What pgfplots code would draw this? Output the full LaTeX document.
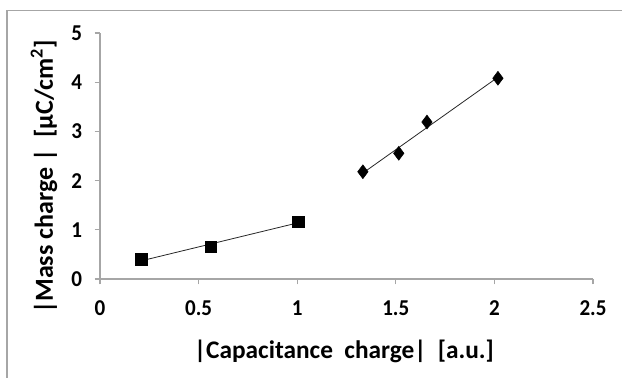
\documentclass[border=0pt]{standalone}
\usepackage{fontspec}
\setmainfont{Carlito}
\newfontfamily\tickfont[FakeStretch=0.93]{Carlito}
\usepackage{pgfplots}
\pgfplotsset{compat=1.18}
\begin{document}
\begin{tikzpicture}
\path[use as bounding box] (0pt,0pt) rectangle (466.5pt,283.5pt);
\draw[gray!70, line width=0.9pt] (5.25pt,0pt) -- (5.25pt,275.6pt) -- (466.5pt,275.6pt);
\begin{axis}[
  at={(75pt,74.25pt)}, anchor=origin,
  scale only axis, width=369.75pt, height=184.5pt,
  xmin=0, xmax=2.5, ymin=0, ymax=5,
  xtick={0,0.5,...,2.5}, ytick={0,1,...,5},
  axis x line*=bottom, axis y line*=left,
  axis line style={gray!70, line width=0.9pt, -},
  tick style={gray!70, line width=0.9pt},
  tick align=outside, major tick length=4pt,
  /pgf/number format/assume math mode=true,
  xticklabel style={font=\fontsize{17}{19}\tickfont\bfseries, anchor=center, yshift=-18pt},
  yticklabel style={font=\fontsize{17}{19}\tickfont\bfseries, anchor=east, xshift=-6pt},
  xlabel={|Capacitance\ \ charge|\ \ [a.u.]},
  ylabel={|Mass charge |\ \ [µC/cm\textsuperscript{2}]},
  xlabel style={font=\fontsize{19}{21}\selectfont\bfseries, at={(axis description cs:0.495,0)}, anchor=center, yshift=-54pt},
  ylabel style={font=\fontsize{19.5}{21}\selectfont\bfseries, at={(axis description cs:-0.1136,0.415)}, anchor=center},
  clip=false,
]
\addplot[black!85, line width=0.6pt] coordinates {(0.211,0.371) (1.004,1.142)};
\addplot[black!85, line width=0.6pt] coordinates {(1.333,2.153) (2.018,4.102)};
\addplot[only marks, mark=square*, mark size=4.4pt, black] coordinates {
(0.211,0.40) (0.562,0.657) (1.004,1.165)};
\addplot[only marks, mark=diamond*, mark size=5.2pt, black] coordinates {
(1.333,2.18) (1.515,2.555) (1.658,3.19) (2.018,4.08)};
\end{axis}
\end{tikzpicture}
\end{document}
